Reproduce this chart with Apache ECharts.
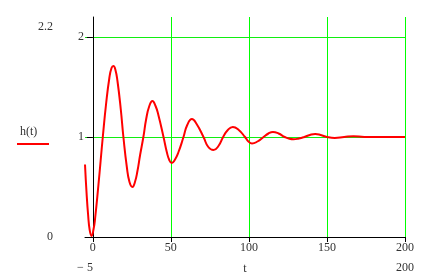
<!DOCTYPE html>
<html>
<head>
<meta charset="utf-8">
<script src="https://cdn.jsdelivr.net/npm/echarts@6/dist/echarts.min.js"></script>
<style>html,body{margin:0;padding:0;background:#fff}#c{width:438px;height:280px}</style>
</head>
<body>
<div id="c"></div>
<script>
// t values and h(t) values
const tVals = [-5, -4, -3, -2, -0.8, 0.5, 1.5, 3.6, 5, 6.4, 8.5, 10.6, 12, 13.2, 14.5, 15.8, 17.9, 19.6, 21.8, 23.5, 25.4, 27, 28.6, 30.3, 32.4, 34.2, 36.2, 38.2, 40.2, 42, 45.3, 47.4, 49, 50.6, 52.5, 54.9, 58.1, 60.5, 63.5, 66.5, 70.9, 74, 77.3, 80.5, 83.5, 86.5, 89.7, 93.5, 97.5, 99.7, 102, 105.5, 109.4, 112.5, 115.4, 119, 123, 126, 128.6, 132, 135.5, 139, 142.5, 146, 150, 155, 161, 167, 174, 185, 200];
const hVals = [0.725, 0.44, 0.22, 0.07, 0.01, 0.08, 0.19, 0.52, 0.76, 1.0, 1.33, 1.59, 1.69, 1.71, 1.67, 1.56, 1.28, 1.0, 0.70, 0.55, 0.50, 0.55, 0.66, 0.82, 1.0, 1.18, 1.31, 1.36, 1.31, 1.22, 1.0, 0.85, 0.77, 0.74, 0.77, 0.85, 1.0, 1.12, 1.18, 1.13, 1.0, 0.90, 0.87, 0.91, 1.0, 1.07, 1.10, 1.07, 1.0, 0.955, 0.935, 0.955, 1.0, 1.035, 1.05, 1.035, 1.0, 0.982, 0.977, 0.985, 1.0, 1.02, 1.03, 1.02, 1.0, 0.99, 1.0, 1.008, 1.0, 1.0, 1.0];
const xTicks = [0, 50, 100, 150, 200];
const yTicks = [1, 2];
const xLimits = [-5, 200];
const yLimits = [0, 2.2];
const seriesName = 'h(t)';
const xName = 't';

const FONT = 'Liberation Serif';
const TXT = '#333';
const chart = echarts.init(document.getElementById('c'), null, {renderer: 'canvas'});
const data = tVals.map((t, i) => [t, hVals[i]]);

chart.setOption({
  animation: false,
  backgroundColor: '#fff',
  grid: {left: 85, right: 33, top: 17, bottom: 37, containLabel: false},
  legend: {
    data: [seriesName],
    left: 7, top: 121,
    icon: 'none', itemWidth: 0, itemHeight: 0,
    selectedMode: false,
    formatter: n => '{n|' + n + '}\n{l|}',
    textStyle: {
      fontFamily: FONT, fontSize: 12, color: TXT,
      rich: {
        n: {fontFamily: FONT, fontSize: 12, color: TXT, lineHeight: 22, padding: [0, 0, 0, 3]},
        l: {backgroundColor: '#ff0000', width: 32, height: 2, lineHeight: 2}
      }
    }
  },
  xAxis: [{
    type: 'value', min: xLimits[0], max: xLimits[1],
    name: xName, nameLocation: 'middle', nameGap: 26,
    nameTextStyle: {fontFamily: FONT, fontSize: 12, color: TXT},
    axisLine: {show: true, onZero: false, lineStyle: {color: '#000', width: 1}},
    axisTick: {show: true, customValues: xTicks, length: 5, lineStyle: {color: '#000'}},
    axisLabel: {customValues: xTicks, margin: 5, fontFamily: FONT, fontSize: 12, color: TXT},
    splitLine: {show: true, lineStyle: {color: '#00ff00', width: 1, type: 'solid', opacity: 1}}
  }, {
    type: 'value', min: xLimits[0], max: xLimits[1], position: 'bottom',
    axisLine: {show: false, onZero: false}, axisTick: {show: false},
    axisLabel: {customValues: xLimits, margin: 25, fontFamily: FONT, fontSize: 12, color: TXT,
      formatter: v => v < 0 ? '\u2212 ' + Math.abs(v) : String(v)},
    splitLine: {show: false}
  }],
  yAxis: [{
    type: 'value', min: yLimits[0], max: yLimits[1],
    axisLine: {show: true, onZero: true, lineStyle: {color: '#000', width: 1}},
    axisTick: {show: true, customValues: yTicks, length: 6, lineStyle: {color: '#000'}},
    axisLabel: {customValues: yTicks, margin: 1, fontFamily: FONT, fontSize: 12, color: TXT},
    splitLine: {show: true, lineStyle: {color: '#11ee11', width: 1, type: 'solid', opacity: 1}}
  }, {
    type: 'value', min: yLimits[0], max: yLimits[1], position: 'left', offset: 24,
    axisLine: {show: false, onZero: false}, axisTick: {show: false},
    axisLabel: {customValues: yLimits, margin: 8, fontFamily: FONT, fontSize: 12, color: TXT,
      lineHeight: 20, verticalAlignMaxLabel: 'top', verticalAlignMinLabel: 'middle'},
    splitLine: {show: false}
  }],
  series: [{
    name: seriesName, type: 'line', data: data, z: 3,
    smooth: 0.5, showSymbol: false, symbol: 'none',
    lineStyle: {color: '#ff0000', width: 2},
    itemStyle: {color: '#ff0000'}
  }]
});
</script>
</body>
</html>
